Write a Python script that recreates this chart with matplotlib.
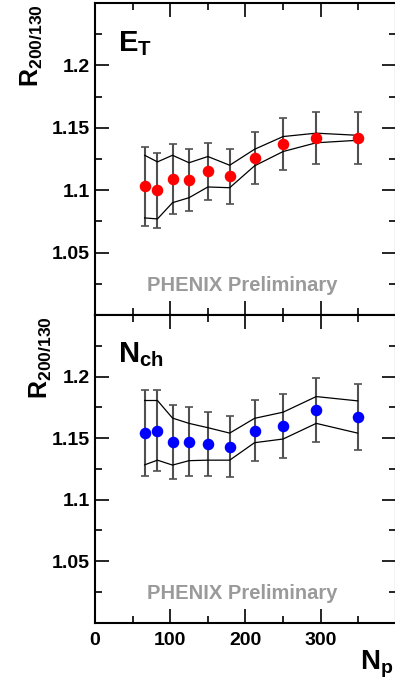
import numpy as np
import matplotlib.pyplot as plt
from matplotlib.ticker import MultipleLocator

plt.rcParams['font.family'] = ['Liberation Sans', 'DejaVu Sans']
plt.rcParams['font.weight'] = 'bold'
plt.rcParams['mathtext.fontset'] = 'custom'
plt.rcParams['mathtext.rm'] = 'Liberation Sans:bold'
plt.rcParams['mathtext.bf'] = 'Liberation Sans:bold'
plt.rcParams['mathtext.it'] = 'Liberation Sans:bold'
plt.rcParams['mathtext.default'] = 'rm'

# N_part centrality bins
npart = [66, 83, 103, 125, 150, 179, 212, 250, 294, 349]

# E_T ratio 200/130
et_val = [1.103, 1.100, 1.109, 1.108, 1.115, 1.111, 1.126, 1.137, 1.142, 1.142]
et_err = [0.032, 0.030, 0.028, 0.025, 0.023, 0.022, 0.021, 0.021, 0.021, 0.021]
et_hi = [1.128, 1.1227, 1.128, 1.122, 1.127, 1.120, 1.1328, 1.143, 1.1457, 1.144]
et_lo = [1.0778, 1.077, 1.090, 1.094, 1.1026, 1.102, 1.1195, 1.131, 1.138, 1.140]

# N_ch ratio 200/130
nch_val = [1.154, 1.156, 1.147, 1.147, 1.145, 1.143, 1.156, 1.160, 1.173, 1.167]
nch_err = [0.035, 0.033, 0.030, 0.028, 0.026, 0.025, 0.025, 0.026, 0.026, 0.027]
nch_hi = [1.1805, 1.1805, 1.1662, 1.1619, 1.1584, 1.154, 1.166, 1.171, 1.1837, 1.1802]
nch_lo = [1.1282, 1.132, 1.128, 1.1316, 1.132, 1.132, 1.1462, 1.1492, 1.1619, 1.154]

fig = plt.figure(figsize=(3.95, 6.82), dpi=100)
left, right = 0.2405, 1.0025
ax1 = fig.add_axes([left, 0.5381, right - left, 0.9956 - 0.5381])
ax2 = fig.add_axes([left, 0.0872, right - left, 0.5381 - 0.0872])


def panel(ax, val, err, hi, lo, color, label):
    ax.errorbar(npart, val, yerr=err, fmt='none', ecolor='#505050',
                elinewidth=1.5, capsize=3, capthick=1.2, zorder=2)
    ax.plot(npart, hi, color='black', lw=0.9, zorder=3)
    ax.plot(npart, lo, color='black', lw=0.9, zorder=3)
    ax.plot(npart, val, 'o', color=color, ms=7.3, mec=color, zorder=4)
    ax.set_xlim(0, 400)
    ax.set_ylim(1.0, 1.25)
    ax.xaxis.set_major_locator(MultipleLocator(100))
    ax.xaxis.set_minor_locator(MultipleLocator(50))
    ax.yaxis.set_major_locator(MultipleLocator(0.05))
    ax.yaxis.set_minor_locator(MultipleLocator(0.025))
    ax.tick_params(which='both', direction='in', top=True, right=True,
                   labelsize=14, width=1.2)
    ax.tick_params(which='major', length=10)
    ax.tick_params(which='minor', length=5)
    for s in ax.spines.values():
        s.set_linewidth(1.5)
    ax.set_yticks([1.05, 1.1, 1.15, 1.2])
    ax.set_yticklabels(['1.05', '1.1', '1.15', '1.2'], fontweight='bold')
    ax.text(0.075, 0.845, label, transform=ax.transAxes, fontsize=21)
    ax.text(0.49, 0.095, 'PHENIX Preliminary', transform=ax.transAxes,
            fontsize=14.5, fontweight='bold', color='#9a9a9a', ha='center',
            va='center')
    ax.set_ylabel(r'$R_{200/130}$', fontsize=18)


panel(ax1, et_val, et_err, et_hi, et_lo, '#ff0000', r'$E_T$')
panel(ax2, nch_val, nch_err, nch_hi, nch_lo, '#0000ff', r'$N_{ch}$')
ax1.yaxis.set_label_coords(-0.17, 0.865)
ax2.yaxis.set_label_coords(-0.14, 0.86)
ax1.tick_params(labelbottom=False)
ax2.set_xticks([0, 100, 200, 300])
ax2.set_xticklabels(['0', '100', '200', '300'], fontweight='bold')
ax2.tick_params(axis='x', pad=7)
fig.text(0.995, 0.003, r'$N_p$', fontsize=20, ha='right', va='bottom')

fig.savefig('out.png', dpi=100)
